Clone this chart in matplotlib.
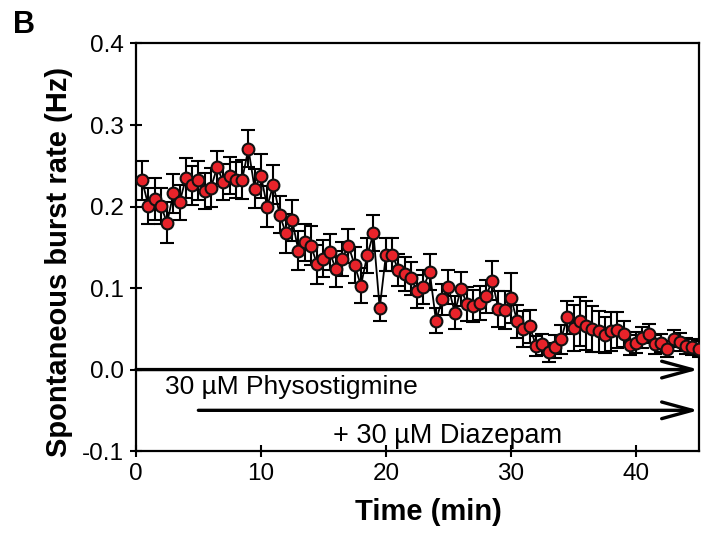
import numpy as np
import matplotlib
matplotlib.use('Agg')
import matplotlib.pyplot as plt

plt.rcParams['font.family'] = ['Liberation Sans', 'DejaVu Sans']

# time points (min), one every 30 s
time_min = np.arange(1, 91) * 0.5

burst_rate = [
    0.232, 0.201, 0.209, 0.201, 0.180, 0.216, 0.205, 0.235, 0.226, 0.232,
    0.219, 0.223, 0.248, 0.230, 0.238, 0.233, 0.233, 0.271, 0.222, 0.238,
    0.200, 0.227, 0.190, 0.167, 0.183, 0.146, 0.156, 0.152, 0.129, 0.136,
    0.144, 0.123, 0.136, 0.152, 0.128, 0.103, 0.140, 0.167, 0.075, 0.141,
    0.141, 0.122, 0.117, 0.112, 0.096, 0.101, 0.120, 0.060, 0.086, 0.101,
    0.070, 0.099, 0.080, 0.078, 0.082, 0.090, 0.109, 0.074, 0.073, 0.088,
    0.059, 0.050, 0.053, 0.029, 0.031, 0.021, 0.028, 0.037, 0.064, 0.051,
    0.059, 0.054, 0.050, 0.047, 0.042, 0.047, 0.049, 0.044, 0.030, 0.033,
    0.039, 0.044, 0.031, 0.033, 0.025, 0.038, 0.034, 0.029, 0.028, 0.025,
]

sem = [
    0.024, 0.022, 0.026, 0.022, 0.025, 0.024, 0.022, 0.025, 0.024, 0.024,
    0.022, 0.024, 0.020, 0.022, 0.023, 0.022, 0.024, 0.023, 0.024, 0.027,
    0.025, 0.024, 0.023, 0.024, 0.025, 0.024, 0.023, 0.024, 0.024, 0.023,
    0.022, 0.022, 0.021, 0.021, 0.022, 0.021, 0.021, 0.022, 0.015, 0.020,
    0.020, 0.020, 0.021, 0.020, 0.020, 0.021, 0.022, 0.015, 0.019, 0.021,
    0.020, 0.021, 0.021, 0.020, 0.021, 0.020, 0.024, 0.022, 0.023, 0.031,
    0.020, 0.022, 0.020, 0.012, 0.013, 0.012, 0.014, 0.018, 0.020, 0.028,
    0.030, 0.030, 0.028, 0.025, 0.022, 0.024, 0.022, 0.016, 0.012, 0.013,
    0.013, 0.012, 0.012, 0.011, 0.010, 0.010, 0.011, 0.010, 0.010, 0.010,
]

fig = plt.figure(figsize=(7.15, 5.37), dpi=100)
ax = fig.add_axes([0.190, 0.160, 0.787, 0.759])

ax.errorbar(time_min, burst_rate, yerr=sem, fmt='o-', color='black', lw=1.3,
            elinewidth=1.5, capsize=5, capthick=1.5,
            markerfacecolor='#e8232a', markeredgecolor='#111111',
            markeredgewidth=1.5, markersize=8.5, zorder=3)

# treatment arrows
arrow = dict(arrowstyle='->,head_length=1.1,head_width=0.3', lw=2.4,
             color='black', mutation_scale=20, shrinkA=0, shrinkB=0)
ax.annotate('', xy=(45, 0.0), xytext=(0, 0.0), arrowprops=arrow,
            annotation_clip=False, zorder=4)
ax.annotate('', xy=(45, -0.05), xytext=(5, -0.05), arrowprops=arrow,
            annotation_clip=False, zorder=4)
ax.text(2.3, -0.022, '30 µM Physostigmine', fontsize=19, va='center', ha='left')
ax.text(15.8, -0.081, '+ 30 µM Diazepam', fontsize=19.5, va='center', ha='left')

ax.set_xlim(0, 45)
ax.set_ylim(-0.1, 0.4)
ax.set_xticks([0, 10, 20, 30, 40])
ax.set_yticks([-0.1, 0.0, 0.1, 0.2, 0.3, 0.4])
ax.set_yticklabels(['-0.1', '0.0', '0.1', '0.2', '0.3', '0.4'])
ax.tick_params(direction='inout', length=9, width=1.5, labelsize=17.5, pad=4)
for s in ax.spines.values():
    s.set_linewidth(1.6)

ax.set_xlabel('Time (min)', fontsize=21, fontweight='bold')
ax.set_ylabel('Spontaneous burst rate (Hz)', fontsize=21, fontweight='bold')
ax.xaxis.set_label_coords(0.52, -0.115)
ax.yaxis.set_label_coords(-0.112, 0.465)

fig.text(0.018, 0.982, 'B', fontsize=22, fontweight='bold', va='top', ha='left')

fig.savefig('out.png', dpi=100)
